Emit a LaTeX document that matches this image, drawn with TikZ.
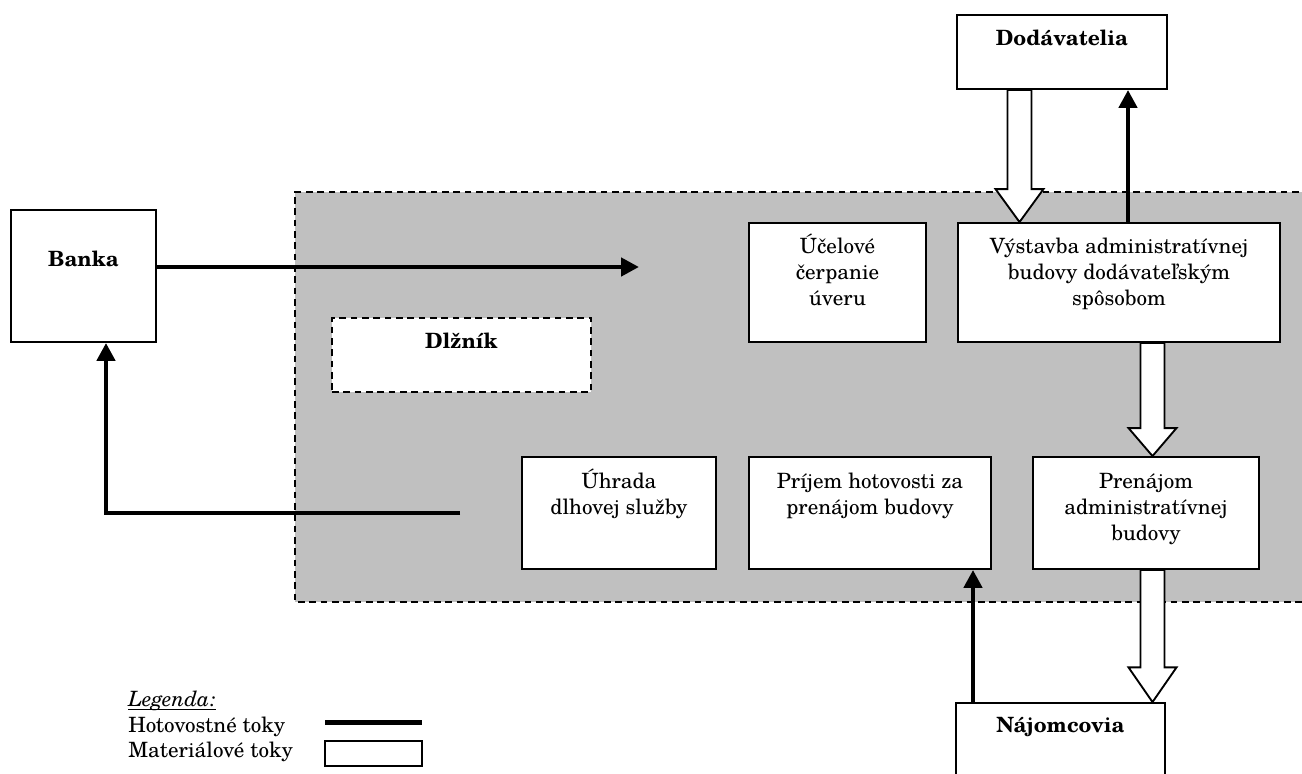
\documentclass[tikz,border=0pt]{standalone}
\usepackage{fontspec}
\setmainfont{TeX Gyre Schola}
\usetikzlibrary{arrows.meta,fit,calc}
\definecolor{zone}{RGB}{192,192,192}
\newcommand\diagfont{\fontsize{15.8}{19.5}\selectfont}
\newcommand\celltext[1]{\begin{tabular}[t]{@{}c@{}}#1\end{tabular}}
% white block arrow for material flows: #1 start, #2 tip, #3 head length
\newcommand\fatflow[3]{%
  \draw[fat] let \p1=#1, \p2=#2 in
    (\x1-9pt,\y1) -- (\x1-9pt,\y2+#3) -- (\x1-18pt,\y2+#3) -- (\x2,\y2)
    -- (\x1+18pt,\y2+#3) -- (\x1+9pt,\y2+#3) -- (\x1+9pt,\y1) -- cycle;}
\begin{document}
\begin{tikzpicture}[x=0.75pt,y=-0.75pt,
  every node/.style={font=\diagfont},
  box/.style={draw, line width=1.4pt, fill=white, inner sep=0pt},
  dbox/.style={box, dash pattern=on 5pt off 3.5pt},
  lbl/.style={anchor=base, inner sep=0pt, align=center},
  cash/.style={line width=3.4pt, -{Triangle[length=13.5pt,width=13.5pt]}},
  fat/.style={draw, fill=white, line width=1.4pt, line join=miter}]
\useasboundingbox (0,0) rectangle (1302,774);

% debtor zone
\fill[zone] (295,192) rectangle (1310,602);
\draw[line width=1.4pt, dash pattern=on 5pt off 3.5pt]
  (1310,192) -- (295,192) -- (295,602) -- (1310,602);

% boxes
\node[box, fit={(11,210) (156,342)}] (banka) {};
\node[box, fit={(957,15) (1167,89)}] (dod) {};
\node[dbox, fit={(332,318) (591,392)}] (dlz) {};
\node[box, fit={(749,223) (926,342)}] (uce) {};
\node[box, fit={(958,223) (1280,342)}] (vys) {};
\node[box, fit={(522,457) (716,569)}] (uhr) {};
\node[box, fit={(749,457) (991,569)}] (pri) {};
\node[box, fit={(1033,457) (1259,569)}] (pre) {};
\node[box, fit={(956,703) (1165,790)}] (naj) {};

% box texts
\node[lbl, font=\diagfont\bfseries] (banka-t) at ($(banka.north)+(0,57)$) {Banka};
\node[lbl, font=\diagfont\bfseries] (dod-t) at ($(dod.north)+(0,31)$) {Dodávatelia};
\node[lbl, font=\diagfont\bfseries] (dlz-t) at ($(dlz.north)+(0,31)$) {Dlžník};
\node[lbl, font=\diagfont\bfseries] (naj-t) at ($(naj.north)+(0,30)$) {Nájomcovia};
\node[lbl] (uce-t) at ($(uce.north)+(0,31)$) {\celltext{Účelové\\čerpanie\\úveru}};
\node[lbl] (vys-t) at ($(vys.north)+(0,31)$) {\celltext{Výstavba administratívnej\\budovy dodávateľským\\spôsobom}};
\node[lbl] (uhr-t) at ($(uhr.north)+(0,32)$) {\celltext{Úhrada\\dlhovej služby}};
\node[lbl] (pri-t) at ($(pri.north)+(0,32)$) {\celltext{Príjem hotovosti za\\prenájom budovy}};
\node[lbl] (pre-t) at ($(pre.north)+(0,32)$) {\celltext{Prenájom\\administratívnej\\budovy}};

% reference columns and free ends of the cash flows
\coordinate (xd) at (1019.5,0);
\coordinate (xs) at (1128,0);
\coordinate (xv) at (1152.5,0);
\coordinate (xn) at (973,0);
\coordinate (xr) at (106,0);
\coordinate (loan) at (639,267);
\coordinate (repay) at (460,513);

% cash flows
\draw[cash] (banka.east |- loan) -- (loan);
\draw[cash] (repay) -| (banka.south -| xr);
\draw[cash] (vys.north -| xs) -- (dod.south -| xs);
\draw[cash] (naj.north -| xn) -- (pri.south -| xn);

% material flows
\fatflow{(dod.south -| xd)}{(vys.north -| xd)}{24.75pt}
\fatflow{(vys.south -| xv)}{(pre.north -| xv)}{21pt}
\fatflow{(pre.south -| xv)}{(naj.north -| xv)}{26pt}

% legend
\node[lbl, anchor=base west] (leg) at (128,706) {\textit{Legenda:}};
\draw[line width=0.9pt] ([yshift=-2.5pt]leg.base west) -- ([yshift=-2.5pt]leg.base east);
\node[lbl, anchor=base west] (leg-cash) at (128,732) {Hotovostné toky};
\node[lbl, anchor=base west] (leg-mat) at (128,757) {Materiálové toky};
\draw[line width=3.75pt] (325,722) -- (422,722);
\draw[line width=1.4pt, fill=white] (325,741) rectangle (422,766);
\end{tikzpicture}
\end{document}
